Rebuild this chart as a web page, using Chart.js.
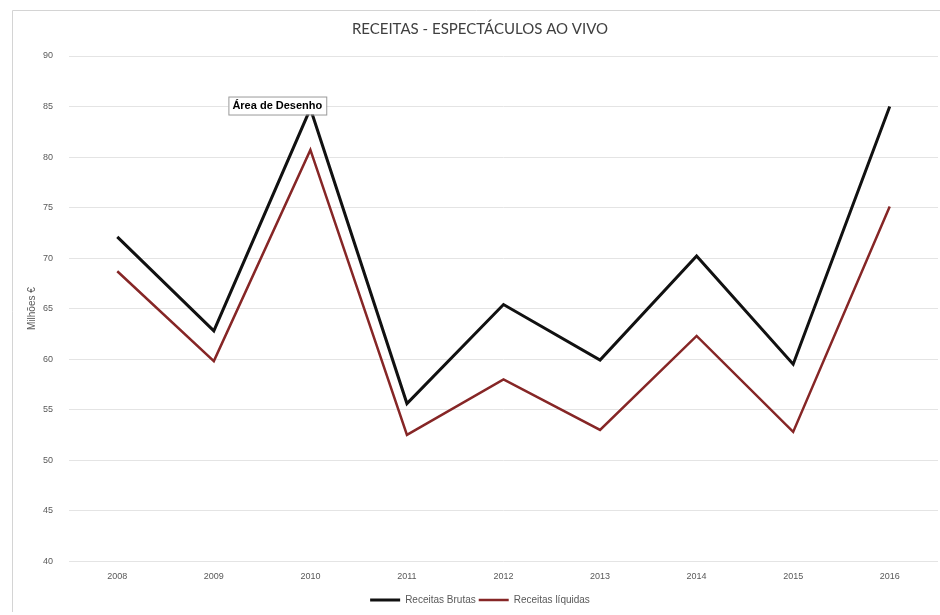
<!DOCTYPE html>
<html>
<head>
<meta charset="utf-8">
<script src="https://cdn.jsdelivr.net/npm/chart.js@4.4.1/dist/chart.umd.min.js"></script>
<style>
html,body{margin:0;padding:0;background:#fff;}
#wrap{width:940px;height:615px;position:relative;}
</style>
</head>
<body>
<div id="wrap"><canvas id="c" width="940" height="615"></canvas></div>
<script>
const years = ['2008','2009','2010','2011','2012','2013','2014','2015','2016'];
const receitasBrutas = [72.1, 62.8, 84.8, 55.6, 65.4, 59.9, 70.2, 59.5, 85.0];
const receitasLiquidas = [68.7, 59.8, 80.7, 52.5, 58.0, 53.0, 62.3, 52.8, 75.1];
const chartTitle = 'RECEITAS - ESPECTÁCULOS AO VIVO';
const yTitle = 'Milhões €';
const seriesNames = ['Receitas Brutas', 'Receitas líquidas'];
const calloutText = 'Área de Desenho';

const framePlugin = {
  id: 'frame',
  beforeDraw(chart) {
    const ctx = chart.ctx;
    ctx.save();
    ctx.fillStyle = '#fff';
    ctx.fillRect(0, 0, chart.width, chart.height);
    ctx.strokeStyle = '#d4d4d4';
    ctx.lineWidth = 1;
    ctx.beginPath();
    ctx.moveTo(12.5, 612);
    ctx.lineTo(12.5, 10.5);
    ctx.lineTo(940, 10.5);
    ctx.stroke();
    ctx.restore();
  }
};

const calloutPlugin = {
  id: 'callout',
  afterDraw(chart) {
    const ctx = chart.ctx;
    const xs = chart.scales.x, ys = chart.scales.y;
    const px = xs.getPixelForValue(2);
    const py = ys.getPixelForValue(85);
    ctx.save();
    ctx.font = 'bold 11px "Liberation Sans", Arial, sans-serif';
    const w = ctx.measureText(calloutText).width + 8;
    const left = px - 82, top = py - 10;
    ctx.fillStyle = '#fff';
    ctx.fillRect(left, top, w, 18);
    ctx.strokeStyle = '#9a9a9a';
    ctx.lineWidth = 1;
    ctx.strokeRect(left + 0.5, top + 0.5, w, 18);
    ctx.fillStyle = '#000';
    ctx.textBaseline = 'middle';
    ctx.fillText(calloutText, left + 4, top + 9.5);
    ctx.restore();
  }
};

new Chart(document.getElementById('c'), {
  type: 'line',
  data: {
    labels: years,
    datasets: [
      { label: seriesNames[0], data: receitasBrutas, borderColor: '#111111', backgroundColor: '#111111', borderWidth: 3, pointRadius: 0, tension: 0, fill: false },
      { label: seriesNames[1], data: receitasLiquidas, borderColor: '#862626', backgroundColor: '#862626', borderWidth: 2.5, pointRadius: 0, tension: 0, fill: false }
    ]
  },
  options: {
    responsive: false,
    animation: false,
    layout: { padding: { top: 10, left: 22, right: 2, bottom: 0 } },
    plugins: {
      title: {
        display: true, text: chartTitle, color: '#404040',
        font: { family: 'Lato, "Open Sans", sans-serif', size: 15, weight: 'normal' },
        padding: { top: 10, bottom: 18 }
      },
      legend: {
        position: 'bottom',
        labels: {
          usePointStyle: true, pointStyle: 'line', pointStyleWidth: 30, boxHeight: 10, padding: 3,
          color: '#595959', font: { family: '"Liberation Sans Narrow", "Liberation Sans", sans-serif', size: 10 }
        }
      },
      tooltip: { enabled: false }
    },
    scales: {
      x: {
        offset: true,
        grid: { display: false, drawTicks: false },
        border: { display: false },
        ticks: { color: '#595959', padding: 10, font: { family: '"Liberation Sans Narrow", "Liberation Sans", sans-serif', size: 9 } }
      },
      y: {
        min: 40, max: 90,
        grid: { color: '#e4e4e4', drawTicks: false },
        border: { display: false },
        ticks: { stepSize: 5, color: '#595959', padding: 16, font: { family: '"Liberation Sans Narrow", "Liberation Sans", sans-serif', size: 9 } },
        title: { display: true, text: yTitle, color: '#595959', padding: { top: 4, bottom: -11 }, font: { family: '"Liberation Sans Narrow", "Liberation Sans", sans-serif', size: 10 } }
      }
    }
  },
  plugins: [framePlugin, calloutPlugin]
});
</script>
</body>
</html>
